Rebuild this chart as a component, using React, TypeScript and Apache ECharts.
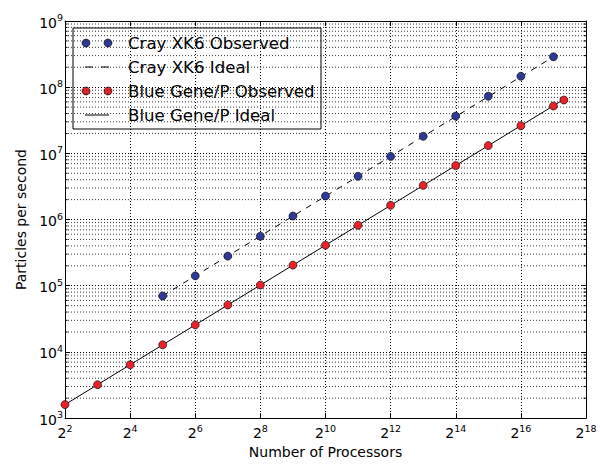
import React, { useEffect, useRef } from "react";
import * as echarts from "echarts";

// ---- data ----
const crayX = [32, 64, 128, 256, 512, 1024, 2048, 4096, 8192, 16384, 32768, 65536, 131072];
const crayObserved = [7.0e4, 1.41e5, 2.8e5, 5.6e5, 1.13e6, 2.27e6, 4.5e6, 9.0e6, 1.81e7, 3.65e7, 7.3e7, 1.46e8, 2.88e8];
const crayIdealX = [32, 131072];
const crayIdeal = [7.04e4, 2.88e8];

const bgpX = [4, 8, 16, 32, 64, 128, 256, 512, 1024, 2048, 4096, 8192, 16384, 32768, 65536, 131072, 163840];
const bgpObserved = [1600, 3200, 6400, 12800, 25600, 51200, 102400, 204800, 409600, 819200, 1.64e6, 3.28e6, 6.55e6, 1.31e7, 2.62e7, 5.2e7, 6.4e7];
const bgpIdealX = [4, 163840];
const bgpIdeal = [1600, 6.55e7];

const xMin = 4;
const xMax = 262144;
const yMin = 1e3;
const yMax = 1e9;
const yDecades = [1e3, 1e4, 1e5, 1e6, 1e7, 1e8];
const yMinorMultipliers = [2, 3, 4, 5, 6, 7, 8, 9];

const seriesNames = ["Cray XK6 Observed", "Cray XK6 Ideal", "Blue Gene/P Observed", "Blue Gene/P Ideal"];

const FONT = "DejaVu Sans";
const BLUE = "#2e3a94";
const RED = "#e8232a";

const pairs = (xs: number[], ys: number[]) => xs.map((x, i) => [x, ys[i]]);

export default function App() {
  const ref = useRef<HTMLDivElement>(null);
  useEffect(() => {
    if (!ref.current) return;
    const chart = echarts.init(ref.current, undefined, { renderer: "svg" });

    const minorY: number[][] = [];
    yDecades.forEach((d) => yMinorMultipliers.forEach((m) => minorY.push([xMin, d * m])));

    const supRich = {
      b: { fontSize: 14, fontFamily: FONT, color: "#000", verticalAlign: "bottom" },
      s: { fontSize: 9.5, fontFamily: FONT, color: "#000", verticalAlign: "top", padding: [0, 0, 7, 0] },
    };

    const baseX = {
      type: "log",
      logBase: 2,
      min: xMin,
      max: xMax,
      interval: 2,
      axisLine: { show: true, lineStyle: { color: "#000", width: 1 } },
      axisTick: { show: true, inside: true, length: 5, lineStyle: { color: "#000", width: 1 } },
      minorTick: { show: false },
    };
    const baseY = {
      type: "log",
      logBase: 10,
      min: yMin,
      max: yMax,
      interval: 1,
      axisLine: { show: true, lineStyle: { color: "#000", width: 1 } },
      axisTick: { show: true, inside: true, length: 5, lineStyle: { color: "#000", width: 1 } },
      minorTick: { show: false },
    };

    const legendRows = [43, 67, 91, 115];
    const legendChildren: any[] = [
      {
        type: "rect",
        shape: { x: 73, y: 28, width: 248, height: 101 },
        style: { fill: "#fff", stroke: "#000", lineWidth: 1 },
      },
    ];
    seriesNames.forEach((name, i) => {
      const y = legendRows[i];
      if (i === 0 || i === 2) {
        const c = i === 0 ? BLUE : RED;
        [86, 108].forEach((cx) =>
          legendChildren.push({
            type: "circle",
            shape: { cx, cy: y, r: 4 },
            style: { fill: c, stroke: "#000", lineWidth: 0.6 },
          })
        );
      } else {
        legendChildren.push({
          type: "line",
          shape: { x1: 85, y1: y, x2: 109, y2: y },
          style: { stroke: "#000", lineWidth: 1, lineDash: i === 1 ? [8, 8] : null },
        });
      }
      legendChildren.push({
        type: "text",
        x: 128,
        y,
        style: { text: name, fontSize: 16.6, fontFamily: FONT, fill: "#000", verticalAlign: "middle", align: "left" },
      });
    });

    const option: any = {
      animation: false,
      backgroundColor: "#fff",
      textStyle: { fontFamily: FONT },
      grid: { left: 65, right: 15, top: 21, bottom: 40, containLabel: false },
      xAxis: [
        {
          ...baseX,
          position: "bottom",
          name: "Number of Processors",
          nameLocation: "middle",
          nameGap: 26,
          nameTextStyle: { fontSize: 14, fontFamily: FONT, color: "#000" },
          axisLabel: {
            margin: 5,
            formatter: (v: number) => `{b|2}{s|${Math.round(Math.log2(v))}}`,
            rich: supRich,
          },
          splitLine: { show: true, lineStyle: { color: "#000", width: 1, type: [1, 2] } },
        },
        {
          ...baseX,
          position: "top",
          axisLabel: { show: false },
          splitLine: { show: false },
        },
      ],
      yAxis: [
        {
          ...baseY,
          position: "left",
          name: "Particles per second",
          nameLocation: "middle",
          nameGap: 36,
          nameTextStyle: { fontSize: 14, fontFamily: FONT, color: "#000" },
          axisLabel: {
            margin: 2,
            formatter: (v: number) => `{b|10}{s|${Math.round(Math.log10(v))}}`,
            rich: supRich,
          },
          splitLine: { show: true, lineStyle: { color: "#000", width: 1, type: [1, 2] } },
        },
        {
          ...baseY,
          position: "right",
          axisLabel: { show: false },
          splitLine: { show: false },
        },
      ],
      series: [
        {
          type: "custom",
          name: "minor",
          silent: true,
          xAxisIndex: 0,
          yAxisIndex: 0,
          data: minorY,
          z: 1,
          renderItem: (_p: any, api: any) => {
            const v = api.value(1);
            const a = api.coord([xMin, v]);
            const b = api.coord([xMax, v]);
            return {
              type: "group",
              children: [
                {
                  type: "line",
                  shape: { x1: a[0], y1: a[1], x2: b[0], y2: b[1] },
                  style: { stroke: "#222", lineWidth: 0.9, lineDash: [1, 2] },
                },
                {
                  type: "line",
                  shape: { x1: a[0], y1: a[1], x2: a[0] + 2.5, y2: a[1] },
                  style: { stroke: "#000", lineWidth: 1 },
                },
                {
                  type: "line",
                  shape: { x1: b[0] - 2.5, y1: b[1], x2: b[0], y2: b[1] },
                  style: { stroke: "#000", lineWidth: 1 },
                },
              ],
            };
          },
        },
        {
          name: seriesNames[1],
          type: "line",
          data: pairs(crayIdealX, crayIdeal),
          symbol: "none",
          lineStyle: { color: "#000", width: 1, type: [6, 6] },
          z: 3,
        },
        {
          name: seriesNames[3],
          type: "line",
          data: pairs(bgpIdealX, bgpIdeal),
          symbol: "none",
          lineStyle: { color: "#000", width: 1 },
          z: 3,
        },
        {
          name: seriesNames[0],
          type: "scatter",
          data: pairs(crayX, crayObserved),
          symbol: "circle",
          symbolSize: 8,
          itemStyle: { color: BLUE, borderColor: "#000", borderWidth: 0.6, opacity: 1 },
          z: 4,
        },
        {
          name: seriesNames[2],
          type: "scatter",
          data: pairs(bgpX, bgpObserved),
          symbol: "circle",
          symbolSize: 8,
          itemStyle: { color: RED, borderColor: "#000", borderWidth: 0.6, opacity: 1 },
          z: 4,
        },
      ],
      graphic: [{ type: "group", z: 100, children: legendChildren }],
    };

    chart.setOption(option);
    return () => chart.dispose();
  }, []);

  return <div ref={ref} style={{ width: 601, height: 464, position: "absolute", left: 0, top: 0 }} />;
}
